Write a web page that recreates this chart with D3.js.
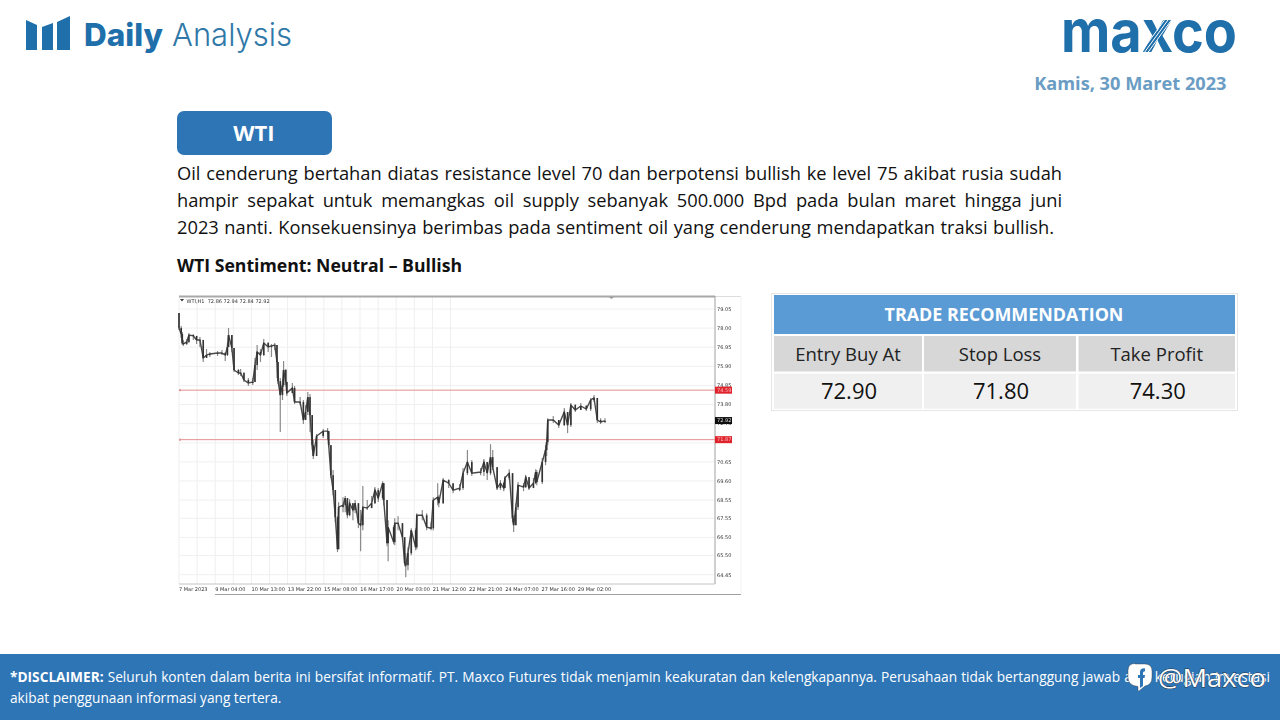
<!DOCTYPE html>
<html><head><meta charset="utf-8">
<script src="https://cdnjs.cloudflare.com/ajax/libs/d3/7.8.5/d3.min.js"></script>
<style>
html,body{margin:0;padding:0;background:#fff;width:1280px;height:720px;overflow:hidden}
svg{position:absolute;left:0;top:0}
.ln{position:absolute;white-space:nowrap;text-align:justify;text-align-last:justify;font-family:"Open Sans",sans-serif}
</style></head><body>
<script>
// ---- chart data: hourly bar index, close, high, low (WTI, H1) ----
const barIndex=[0,2,3,4,7,9,13,16,19,22,25,28,35,39,42,44,45,48,50,54,56,59,63,67,69,71,74,77,81,84,87,89,90,92,94,95,97,98,103,105,110,113,115,117,119,121,122,125,131,135,136,138,140,142,144,145,149,151,153,155,158,160,163,165,167,171,175,178,181,185,186,189,190,195,196,199,203,205,206,208,211,215,216,221,225,229,231,235,236,240,245,249,255,258,262,266,274,277,280,283,285,289,292,295,296,300,303,304,306,308,313,315,318,322,324,325,330,333,334,335,340,345,350,353,356,360,365,370,374,377,380,383,387];
const closes=[78.01,77.68,77.18,77.13,77.24,77.62,77.57,77.35,77.35,76.36,76.52,76.58,76.63,76.63,76.52,76.96,77.62,76.91,75.70,75.53,75.53,75.15,74.98,75.04,75.97,76.69,76.52,77.18,76.96,77.02,77.07,76.14,75.09,74.32,74.87,75.70,75.04,74.43,74.71,73.94,73.94,72.95,73.39,74.21,73.22,71.57,70.97,72.07,72.34,72.34,71.57,69.92,69.10,67.61,65.85,68.16,68.27,68.66,67.72,68.38,68.00,68.38,67.28,67.17,68.16,68.11,68.38,69.10,68.66,69.48,68.55,66.18,67.06,66.24,67.28,67.28,66.51,65.08,64.97,65.63,66.89,65.96,67.72,67.72,67.06,67.00,68.55,68.71,68.38,69.65,69.48,69.10,69.21,70.03,70.64,70.03,70.09,70.64,70.03,70.91,70.36,69.21,69.48,69.21,69.76,70.03,67.55,67.17,68.16,69.37,69.26,69.81,69.21,69.48,70.09,69.54,70.64,71.30,71.74,72.95,72.95,72.67,73.39,72.67,73.77,73.50,73.72,73.55,74.05,74.16,72.95,72.84,72.90];
const highs=[78.83,78.12,77.79,77.35,77.40,77.73,77.68,77.57,77.51,77.02,76.85,76.69,76.74,76.80,76.69,77.18,78.01,77.62,76.91,75.75,75.75,75.59,75.26,75.26,76.36,77.07,76.85,77.40,77.24,77.13,77.18,77.07,75.70,75.26,75.04,76.19,75.75,75.04,74.98,74.82,74.21,74.05,73.77,74.49,74.38,73.22,71.85,72.18,72.45,72.51,72.34,71.57,70.20,69.10,67.66,68.43,68.71,68.77,68.55,68.60,68.38,68.55,68.38,68.00,69.32,68.55,68.77,69.27,69.21,69.59,69.48,68.55,67.44,67.17,67.55,67.66,67.28,66.51,65.63,65.96,67.00,67.00,67.83,68.00,67.83,67.33,68.71,69.48,68.82,69.76,69.70,69.43,69.43,70.31,71.30,70.75,70.31,70.81,70.64,71.62,71.30,70.36,69.65,69.54,69.87,70.25,70.03,67.72,68.38,69.54,69.48,69.92,69.81,69.76,70.25,70.20,70.86,71.57,71.96,73.05,73.17,72.95,73.61,73.39,73.88,73.83,73.88,73.77,74.16,74.32,74.16,73.05,73.05];
const lows=[77.90,77.46,77.07,77.02,77.07,77.18,77.35,77.13,76.96,76.14,76.36,76.41,76.47,76.52,76.19,76.47,76.96,76.69,75.59,75.42,75.37,75.04,74.82,74.87,75.04,75.70,76.14,76.47,76.69,76.41,76.80,75.26,74.93,72.29,74.05,74.76,74.87,74.27,74.49,73.83,73.77,72.73,72.95,73.22,72.29,71.30,70.81,71.46,71.96,71.85,71.46,69.76,68.82,67.33,65.69,66.62,67.88,67.88,67.55,67.66,67.44,67.83,67.01,65.74,66.89,68.00,68.11,68.33,68.44,68.55,68.27,66.02,65.19,66.13,66.07,66.89,66.35,64.92,64.31,64.70,65.52,65.80,65.85,67.44,66.89,66.89,66.89,68.27,68.16,68.33,69.21,68.93,69.04,69.10,69.92,69.87,69.92,69.87,69.65,69.92,70.20,69.10,69.10,69.04,69.21,69.65,67.33,66.79,67.17,68.00,69.04,69.21,69.10,69.26,69.43,69.37,69.43,70.47,70.97,71.57,72.78,72.51,72.62,72.23,72.56,73.39,73.50,73.44,73.44,73.94,72.78,72.73,72.78];
const priceTicks=[79.05,78.00,76.95,75.90,74.85,73.80,72.75,70.65,69.60,68.55,67.55,66.50,65.50,64.45];
const gridPrices=[79.05,78.00,76.95,75.90,74.85,73.80,72.75,71.70,70.65,69.60,68.55,67.55,66.50,65.50,64.45];
const timeLabels=["7 Mar 2023","9 Mar 04:00","10 Mar 13:00","13 Mar 22:00","15 Mar 08:00","16 Mar 17:00","20 Mar 03:00","21 Mar 12:00","22 Mar 21:00","24 Mar 07:00","27 Mar 16:00","29 Mar 02:00"];
const levelPrices=[74.59,71.87];
const currentPrice=72.92;
const chartTitle="WTI,H1  72.86 72.94 72.84 72.92";
// ---- table data ----
const tableHeader="TRADE RECOMMENDATION";
const tableColumns=["Entry Buy At","Stop Loss","Take Profit"];
const tableValues=["72.90","71.80","74.30"];
// ---- copy ----
const bodyLines=["Oil cenderung bertahan diatas resistance level 70 dan berpotensi bullish ke level 75 akibat rusia sudah","hampir sepakat untuk memangkas oil supply sebanyak 500.000 Bpd pada bulan maret hingga juni","2023 nanti. Konsekuensinya berimbas pada sentiment oil yang cenderung mendapatkan traksi bullish."];

const svg=d3.select("body").append("svg").attr("width",1280).attr("height",720);
const defs=svg.append("defs");
defs.append("filter").attr("id","soft").attr("x","-2%").attr("y","-2%").attr("width","104%").attr("height","104%")
  .append("feGaussianBlur").attr("stdDeviation",0.4);
const F='"Open Sans",sans-serif';
const blue="#1f6fab";

// header logo
const g=svg.append("g");
g.append("path").attr("fill",blue).attr("d","M26 20L37 25V50H26Z M42 27L53 23V50H42Z M57 22L70 16V50H57Z");
g.append("text").attr("x",84).attr("y",46).attr("font-family","Inter,sans-serif").attr("font-weight",800).attr("font-size",31.5).attr("fill",blue).attr("textLength",79).attr("lengthAdjust","spacingAndGlyphs").text("Daily");
g.append("text").attr("x",172).attr("y",46).attr("font-family","Inter,sans-serif").attr("font-weight",300).attr("font-size",31.5).attr("fill","#2f78a8").attr("textLength",120).attr("lengthAdjust","spacingAndGlyphs").text("Analysis");
svg.append("text").attr("x",1061).attr("y",52).attr("font-family","Inter,sans-serif").attr("font-weight",700).attr("font-size",58).attr("fill",blue).attr("textLength",176).attr("lengthAdjust","spacingAndGlyphs").text("maxco");
// hatch on the logo x
[-3.5,0,3.5].forEach(d=>svg.append("line").attr("x1",1144+d).attr("y1",53).attr("x2",1168+d).attr("y2",20).attr("stroke","#fff").attr("stroke-width",1));
svg.append("text").attr("x",1226.5).attr("y",90).attr("text-anchor","end").attr("font-family",F).attr("font-weight",700).attr("font-size",18.2).attr("fill","#6a9cc4").text("Kamis, 30 Maret 2023");

// WTI button
svg.append("rect").attr("x",177).attr("y",111).attr("width",155).attr("height",44).attr("rx",7).attr("fill","#2e75b6");
svg.append("text").attr("x",254).attr("y",140.5).attr("text-anchor","middle").attr("font-family",F).attr("font-weight",700).attr("font-size",22).attr("fill","#fff").text("WTI");

// body text
bodyLines.forEach((t,i)=>{
  d3.select("body").append("div").attr("class","ln")
    .style("left","177px").style("top",(160+i*27)+"px").style("width",(i==2?877:885)+"px")
    .style("font-size","18.3px").style("line-height","26px").style("color","#111").text(t);
});
svg.append("text").attr("x",177).attr("y",272).attr("font-family",F).attr("font-weight",700).attr("font-size",17.65).attr("fill","#111").text("WTI Sentiment: Neutral – Bullish");

// chart scales
const x=d3.scaleLinear().domain([0,387]).range([179,605]);
const y=d3.scaleLinear().domain([79.05,64.45]).range([309,574.7]);
const plotR=715, plotT=297, plotB=584;
const c=svg.append("g").attr("filter","url(#soft)");
c.append("rect").attr("x",176).attr("y",293).attr("width",570).attr("height",304).attr("fill","#fff");
// vertical grid
d3.range(0,16).forEach(i=>{
  const gx=179+i*18.1;
  c.append("line").attr("x1",gx).attr("x2",gx).attr("y1",plotT).attr("y2",plotB).attr("stroke","#efefef").attr("stroke-width",1);
});
gridPrices.forEach(p=>c.append("line").attr("x1",179).attr("x2",plotR).attr("y1",y(p)).attr("y2",y(p)).attr("stroke","#f0f0f0"));
// frame
c.append("line").attr("x1",179).attr("x2",715).attr("y1",296.5).attr("y2",296.5).attr("stroke","#a8a8a8").attr("stroke-width",1.8);
c.append("line").attr("x1",715).attr("x2",741).attr("y1",296.5).attr("y2",296.5).attr("stroke","#dcdcdc");
c.append("line").attr("x1",715).attr("x2",715).attr("y1",296).attr("y2",plotB).attr("stroke","#a0a0a0");
c.append("line").attr("x1",179).attr("x2",715).attr("y1",plotB).attr("y2",plotB).attr("stroke","#c4c4c4");
c.append("line").attr("x1",215).attr("x2",741).attr("y1",594.5).attr("y2",594.5).attr("stroke","#a0a0a0");
c.append("line").attr("x1",741).attr("x2",741).attr("y1",296).attr("y2",594).attr("stroke","#f2f2f2");
c.append("path").attr("d","M609 297h5l-2.5 2Z").attr("fill","#999");
// price levels
levelPrices.forEach(p=>{
  c.append("line").attr("x1",179).attr("x2",plotR).attr("y1",y(p)).attr("y2",y(p)).attr("stroke","#e58f8f");
  c.append("rect").attr("x",179).attr("y",y(p)-1).attr("width",2).attr("height",2).attr("fill","#d99");
});
// candles
const bars=barIndex.map((b,i)=>({b,c:closes[i],h:highs[i],l:lows[i],o:i?closes[i-1]:highs[i]}));
c.append("g").selectAll("line").data(bars).join("line")
  .attr("x1",d=>x(d.b)).attr("x2",d=>x(d.b)).attr("y1",d=>y(d.h)).attr("y2",d=>y(d.l))
  .attr("stroke","#8a8a8a").attr("stroke-width",1.2);
c.append("path").datum(bars).attr("fill","none").attr("stroke","#4a4a4a").attr("stroke-width",1.4)
  .attr("d",d3.line().x(d=>x(d.b)).y(d=>y(d.c)));
c.append("g").selectAll("rect").data(bars).join("rect")
  .attr("x",d=>x(d.b)-.8).attr("width",1.6)
  .attr("y",d=>y(Math.max(d.o,d.c))).attr("height",d=>Math.max(.8,Math.abs(y(d.o)-y(d.c))))
  .attr("fill","#333");
// price axis
const tx='"DejaVu Sans",sans-serif';
priceTicks.forEach(p=>c.append("text").attr("x",717).attr("y",y(p)+1.8).attr("font-family",tx).attr("font-size",5).attr("fill","#333").text(p.toFixed(2)));
levelPrices.forEach(p=>{
  c.append("rect").attr("x",715).attr("y",y(p)-3.5).attr("width",17).attr("height",7).attr("fill","#e0202a");
  c.append("text").attr("x",717).attr("y",y(p)+1.8).attr("font-family",tx).attr("font-size",5).attr("fill","#f6c0c0").text(p.toFixed(2));
});
c.append("rect").attr("x",715).attr("y",y(currentPrice)-3.5).attr("width",17).attr("height",7).attr("fill","#111");
c.append("text").attr("x",717).attr("y",y(currentPrice)+1.8).attr("font-family",tx).attr("font-size",5).attr("fill","#ddd").text(currentPrice.toFixed(2));
// time axis
timeLabels.forEach((t,i)=>c.append("text").attr("x",179+i*36.25).attr("y",591).attr("font-family",tx).attr("font-size",5).attr("fill","#333").text(t));
c.append("path").attr("d","M180 299h4l-2 2.5Z").attr("fill","#333");
c.append("text").attr("x",186.5).attr("y",302.5).attr("font-family",tx).attr("font-size",5).attr("fill","#333").attr("xml:space","preserve").text(chartTitle);

// table
const T=svg.append("g");
T.append("rect").attr("x",771.5).attr("y",293.5).attr("width",466).attr("height",117).attr("fill","#fff").attr("stroke","#e6e6e6");
T.append("rect").attr("x",774).attr("y",295).attr("width",461).attr("height",39).attr("fill","#5b9bd5");
T.append("text").attr("x",1004).attr("y",321).attr("text-anchor","middle").attr("font-family",F).attr("font-weight",700).attr("font-size",17.9).attr("fill","#fff").text(tableHeader);
const colX=[[774,922],[924,1076],[1078.5,1235]];
tableColumns.forEach((t,i)=>{
  const [a,b]=colX[i];
  T.append("rect").attr("x",a).attr("y",336).attr("width",b-a).attr("height",35.5).attr("fill","#d7d7d7");
  T.append("rect").attr("x",a).attr("y",373.7).attr("width",b-a).attr("height",35).attr("fill","#f0f0f0");
  T.append("text").attr("x",(a+b)/2).attr("y",361).attr("text-anchor","middle").attr("font-family",F).attr("font-size",18.5).attr("fill","#222").text(t);
  T.append("text").attr("x",(a+b)/2+1).attr("y",399).attr("text-anchor","middle").attr("font-family",F).attr("font-size",22).attr("fill","#111").text(tableValues[i]);
});

// footer
svg.append("rect").attr("x",0).attr("y",654).attr("width",1280).attr("height",66).attr("fill","#2e75b6");
d3.select("body").append("div").attr("class","ln")
  .style("left","10px").style("top","668px").style("width","1260px").style("font-size","13.7px").style("line-height","18px").style("color","#fff").style("z-index",1)
  .html('<b>*DISCLAIMER:</b> Seluruh konten dalam berita ini bersifat informatif. PT. Maxco Futures tidak menjamin keakuratan dan kelengkapannya. Perusahaan tidak bertanggung jawab atas kerugian investasi');
d3.select("body").append("div").attr("class","ln")
  .style("left","10px").style("top","689px").style("font-size","13.7px").style("line-height","18px").style("color","#fff").style("text-align-last","left").style("z-index",1)
  .text("akibat penggunaan informasi yang tertera.");
// watermark overlay
const o=d3.select("body").append("svg").attr("width",1280).attr("height",720).style("z-index",2);
o.append("path").attr("fill","#fff").attr("stroke","#333").attr("stroke-width",.4)
  .attr("d","M1135 664h10q7 0 7 7v6q0 8-7 9l-6 5q-1 .6-1-1.5v-3q-10-1-10-9v-7q0-7 7-7Z");
o.append("path").attr("fill","#2e75b6").attr("d","M1140 688v-10h-2v-3h2v-3q0-4 5-3.6v2.8q-2 0-2 1.5v2.3h2l-.5 3h-1.5v8Z");
o.append("text").attr("x",1158).attr("y",686.5).attr("font-family",F).attr("font-size",26).attr("fill","#fff").attr("stroke","#26323f").attr("stroke-width",.9).attr("paint-order","stroke").attr("textLength",108).attr("lengthAdjust","spacingAndGlyphs").text("@Maxco");
</script>
</body></html>
